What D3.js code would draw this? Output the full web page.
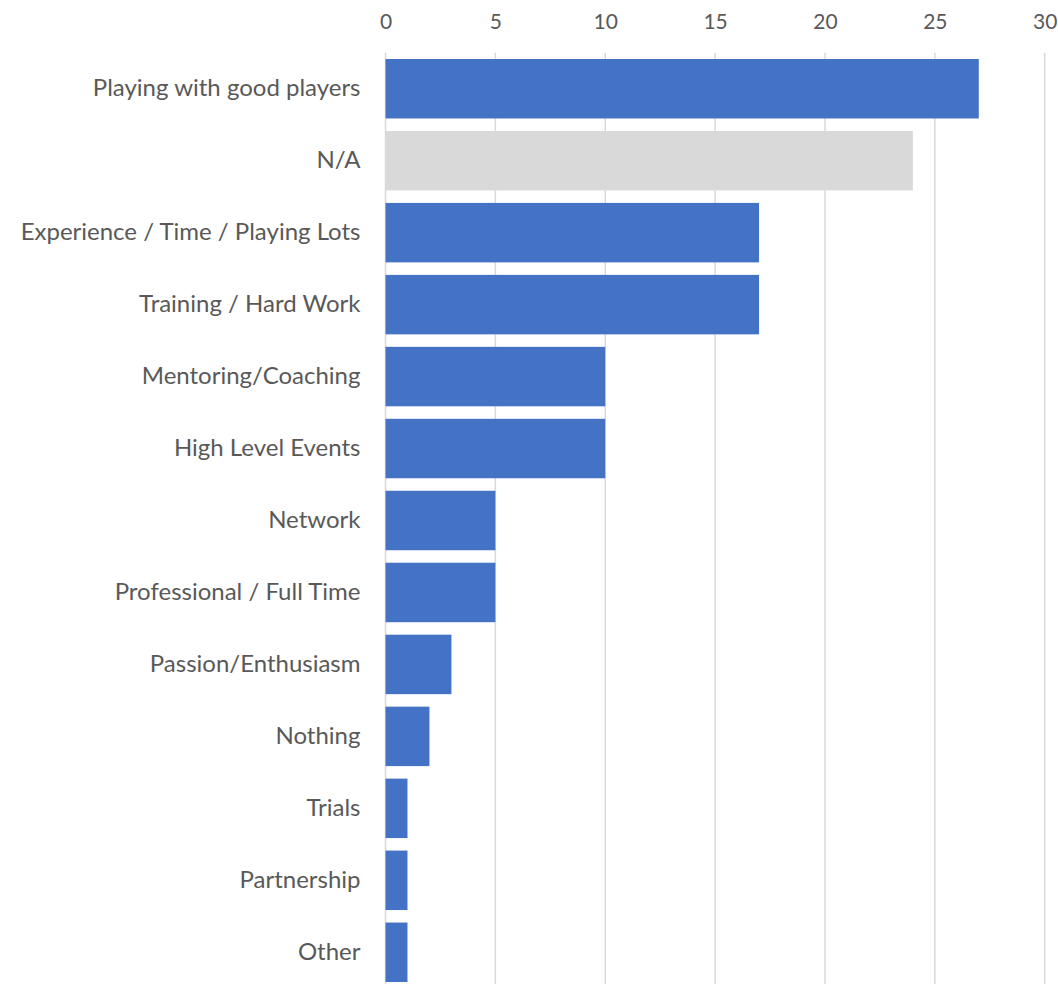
<!DOCTYPE html>
<html>
<head>
<meta charset="utf-8">
<script src="https://cdn.jsdelivr.net/npm/d3@7"></script>
<style>
  html, body { margin: 0; padding: 0; background: #fff; }
  svg { display: block; }
  text { font-family: Lato, "Open Sans", sans-serif; fill: #595959; }
</style>
</head>
<body>
<svg id="chart" width="1058" height="984"></svg>
<script>
const categories = [
  "Playing with good players",
  "N/A",
  "Experience / Time / Playing Lots",
  "Training / Hard Work",
  "Mentoring/Coaching",
  "High Level Events",
  "Network",
  "Professional / Full Time",
  "Passion/Enthusiasm",
  "Nothing",
  "Trials",
  "Partnership",
  "Other"
];
const counts = [27, 24, 17, 17, 10, 10, 5, 5, 3, 2, 1, 1, 1];
const xTicks = [0, 5, 10, 15, 20, 25, 30];

const data = categories.map((c, i) => ({ category: c, value: counts[i] }));

const svg = d3.select("#chart");
const plot = { left: 385.5, right: 1044.7, top: 52.75, bottom: 988.25 };
const fontStack = "Lato, 'Open Sans', sans-serif";

const x = d3.scaleLinear().domain([0, 30]).range([plot.left, plot.right]);
const y = d3.scaleBand().domain(categories).range([plot.top, plot.bottom])
  .paddingInner(12.5 / 72).paddingOuter(6.25 / 72);

// vertical gridlines
svg.append("g")
  .selectAll("line")
  .data(xTicks)
  .join("line")
  .attr("x1", d => x(d)).attr("x2", d => x(d))
  .attr("y1", plot.top).attr("y2", plot.bottom)
  .attr("stroke", "#d9d9d9")
  .attr("stroke-width", 1.5);

// top axis tick labels
const axis = svg.append("g")
  .attr("transform", "translate(0,29)")
  .call(d3.axisTop(x).tickValues(xTicks).tickSize(0).tickPadding(0));
axis.select(".domain").remove();
axis.selectAll("text")
  .attr("font-family", fontStack)
  .attr("font-size", 21)
  .attr("fill", "#595959")
  .attr("dy", "0");

// bars
svg.append("g")
  .selectAll("rect")
  .data(data)
  .join("rect")
  .attr("x", x(0))
  .attr("y", d => y(d.category))
  .attr("width", d => x(d.value) - x(0))
  .attr("height", y.bandwidth())
  .attr("fill", d => d.category === "N/A" ? "#d9d9d9" : "#4472c4");

// category labels
const yAxis = svg.append("g")
  .attr("transform", `translate(${x(0) - 25},0)`)
  .call(d3.axisLeft(y).tickSize(0).tickPadding(0));
yAxis.select(".domain").remove();
yAxis.selectAll("text")
  .attr("font-family", fontStack)
  .attr("font-size", 24)
  .attr("fill", "#595959");
</script>
</body>
</html>
